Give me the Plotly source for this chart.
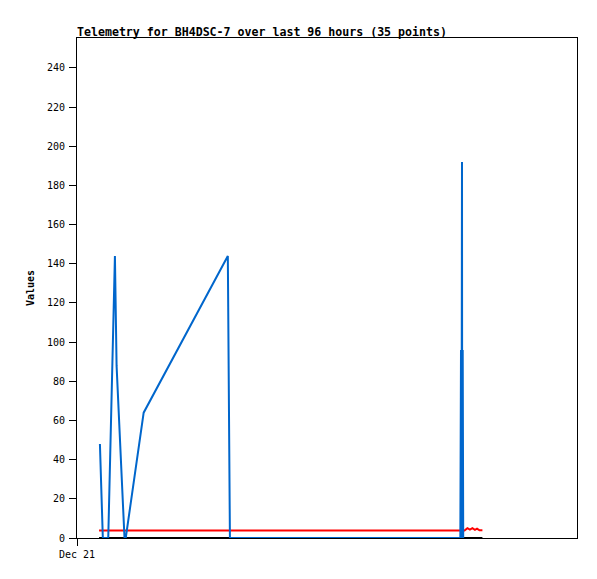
import plotly.graph_objects as go

# hours since Dec 21 00:00
blue_t = [5.5, 6.2, 7.5, 9.1, 9.5, 11.4, 11.7, 16.0, 36.2, 36.4, 36.7,
          92.0, 92.16, 92.28, 92.4, 92.45, 92.57, 92.69]
blue_v = [48, 0, 0, 144, 88, 0, 0, 64, 144, 72, 0,
          0, 96, 0, 192, 0, 96, 0]

red_t = [5.3, 20.0, 40.0, 60.0, 80.0, 92.0, 93.0, 93.7, 94.3, 94.9, 95.5, 96.0, 96.6, 97.3]
red_v = [3.8, 3.8, 3.8, 3.8, 3.8, 3.8, 3.8, 5.0, 4.3, 5.0, 4.2, 4.8, 3.9, 3.9]

black_t = [5.3, 97.3]
black_v = [0, 0]

y_ticks = list(range(0, 241, 20))
x_tick_vals = [0]
x_tick_text = ["Dec 21"]

fig = go.Figure()
fig.add_trace(go.Scatter(x=black_t, y=black_v, mode="lines",
                         line=dict(color="#000000", width=2), showlegend=False))
fig.add_trace(go.Scatter(x=red_t, y=red_v, mode="lines",
                         line=dict(color="#FF0000", width=2), showlegend=False))
fig.add_trace(go.Scatter(x=blue_t, y=blue_v, mode="lines",
                         line=dict(color="#0066CC", width=2), showlegend=False))

font = "DejaVu Sans Mono, Liberation Mono, monospace"
W, H = 589, 571  # page body has an 8px margin
fig.update_layout(
    width=W, height=H,
    margin=dict(l=69, r=20, t=30, b=41, autoexpand=False),
    paper_bgcolor="white", plot_bgcolor="white",
    title=dict(text="<b>Telemetry for BH4DSC-7 over last 96 hours (35 points)</b>",
               x=69/W, xanchor="left", y=1-23.5/H, yanchor="middle",
               font=dict(family=font, size=11.6, color="black")),
    xaxis=dict(range=[0, 120], tickvals=x_tick_vals, ticktext=x_tick_text,
               automargin=False,
               showgrid=False, zeroline=False, showline=True, linecolor="black",
               linewidth=1, mirror=True, ticks="outside", ticklen=7,
               tickcolor="black", tickfont=dict(family=font, size=10, color="black")),
    yaxis=dict(range=[0, 255.3], tickvals=y_ticks, showgrid=False, zeroline=False,
               automargin=False,
               showline=True, linecolor="black", linewidth=1, mirror=True,
               ticks="outside", ticklen=7, tickcolor="black", ticklabelstandoff=2,
               tickfont=dict(family=font, size=10, color="black"),
               title=dict(text="<b>Values</b>", standoff=10,
                          font=dict(family=font, size=10, color="black"))),
)
fig.write_html("out.html")
